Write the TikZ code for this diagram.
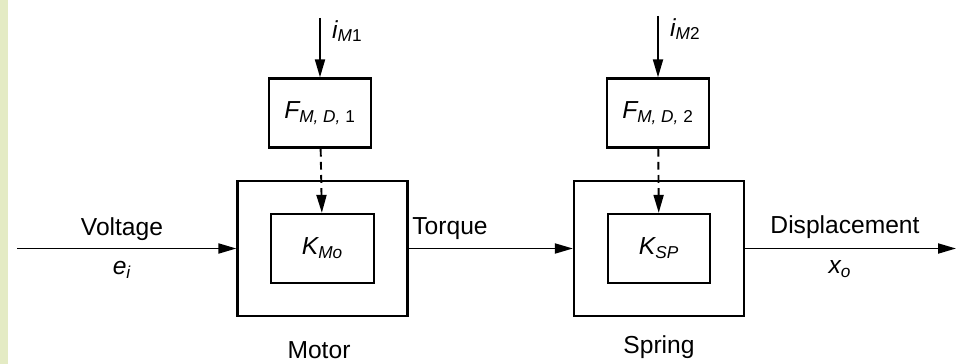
\documentclass[tikz,border=0pt]{standalone}
\usepackage{fontspec}
\setmainfont{Liberation Sans}
\usetikzlibrary{arrows.meta,positioning,calc}
\definecolor{Strip}{HTML}{E4EBC4}

\begin{document}
\begin{tikzpicture}[font=\fontsize{14}{16}\selectfont,
    outerstyle/.style={draw,line width=1.3pt,minimum width=3.4cm,minimum height=2.7cm},
    innerstyle/.style={draw,line width=1.3pt,minimum width=2.05cm,minimum height=1.38cm,font=\fontsize{14}{16}\selectfont\itshape},
    sigarrow/.style={line width=1.1pt,-{Triangle[length=.36cm,width=.2cm]}},
    dasharrow/.style={sigarrow,dash pattern=on 4.5pt off 3pt}]
    \useasboundingbox (0,0) rectangle (19.12,-7.28);
    \fill[Strip] (0,0) rectangle (.16,-7.28);
    \node[outerstyle] (motor) at (6.45,-4.97) {};
    \node[innerstyle] (kmo) at (motor) {K\textsubscript{Mo}};
    \node[innerstyle] (fmd1) at (6.4,-2.26) {F\textsubscript{M, D, \upshape 1}};
    \node (motorlbl) at (6.38,-7.0) {Motor};
    \node[outerstyle] (spring) at (13.18,-4.97) {};
    \node[innerstyle] (ksp) at (spring) {K\textsubscript{SP}};
    \node[innerstyle] (fmd2) at (13.16,-2.26) {F\textsubscript{M, D, \upshape 2}};
    \node (springlbl) at (13.18,-6.95) {Spring};
    \coordinate (vin) at (.34,-4.97);
    \coordinate (xout) at (19.12,-4.97);
    \coordinate (im1) at (6.4,-.36);
    \coordinate (im2) at (13.16,-.32);
    \draw[sigarrow] (vin) -- (motor);
    \draw[sigarrow] (motor) -- (spring);
    \draw[sigarrow] (spring) -- (xout);
    \draw[sigarrow] (im1) -- (fmd1);
    \draw[sigarrow] (im2) -- (fmd2);
    \draw[dasharrow] (fmd1) -- (kmo);
    \draw[dasharrow] (fmd2) -- (ksp);
    \node (voltage) at (2.44,-4.58) {Voltage};
    \node[font=\fontsize{14}{16}\selectfont\itshape] (ei) at (2.44,-5.4) {e\textsubscript{i}};
    \node (torque) at (9.0,-4.58) {Torque};
    \node (displ) at (16.9,-4.55) {Displacement};
    \node[font=\fontsize{14}{16}\selectfont\itshape] (xo) at (16.8,-5.38) {x\textsubscript{o}};
    \node[anchor=west,font=\fontsize{14}{16}\selectfont\itshape] (im1lbl) at (6.52,-.62) {i\textsubscript{M\upshape 1}};
    \node[anchor=west,font=\fontsize{14}{16}\selectfont\itshape] (im2lbl) at (13.28,-.58) {i\textsubscript{M\upshape 2}};
\end{tikzpicture}
\end{document}
